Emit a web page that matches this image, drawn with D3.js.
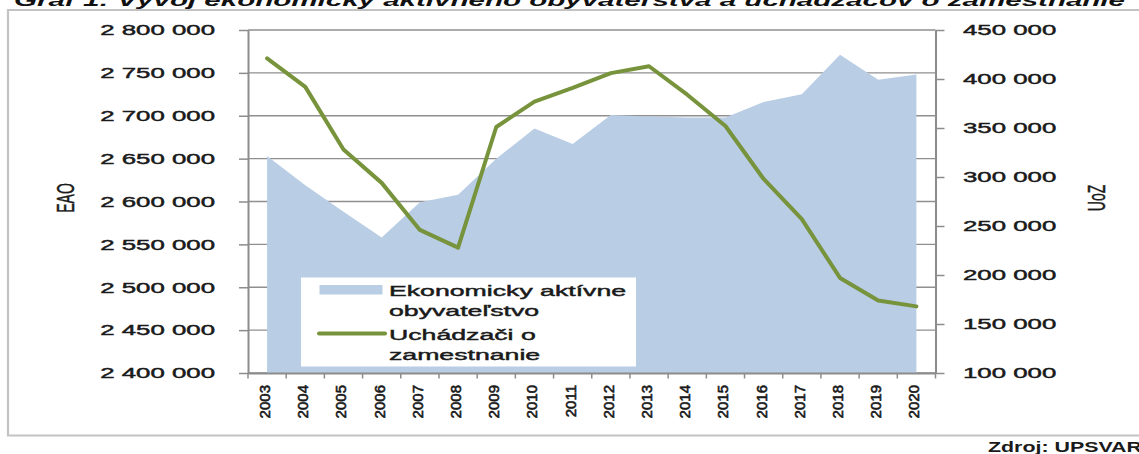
<!DOCTYPE html>
<html>
<head>
<meta charset="utf-8">
<script src="https://cdn.jsdelivr.net/npm/d3@7/dist/d3.min.js"></script>
<style>
  html, body { margin: 0; padding: 0; background: #fff; }
  svg { display: block; }
  text { font-family: "Liberation Sans", Arial, sans-serif; }
</style>
</head>
<body>
<svg id="chart" width="1139" height="454"></svg>
<script>
// ---- data ----
const years = ["2003","2004","2005","2006","2007","2008","2009","2010","2011","2012",
               "2013","2014","2015","2016","2017","2018","2019","2020"];
const eaoValues = [2653000, 2619000, 2588000, 2558000, 2599000, 2608000, 2650000, 2685000, 2667000,
                   2701000, 2699000, 2698000, 2698000, 2716000, 2725000, 2771000, 2742000, 2748000];
const uozValues = [421000, 392000, 328000, 294000, 246000, 228000, 351000, 377000, 391000,
                   406000, 413000, 384000, 352000, 298000, 257000, 197000, 174000, 168000];
const leftTicks = [2400000, 2450000, 2500000, 2550000, 2600000, 2650000, 2700000, 2750000, 2800000];
const rightTicks = [100000, 150000, 200000, 250000, 300000, 350000, 400000, 450000];
const leftTitle = "EAO";
const rightTitle = "UoZ";
const legendLines = [["Ekonomicky aktívne", "obyvateľstvo"], ["Uchádzači o", "zamestnanie"]];
const chartTitle = "Graf 1: Vývoj ekonomicky aktívneho obyvateľstva a uchádzačov o zamestnanie";
const sourceText = "Zdroj: UPSVAR";

// ---- layout ----
const SX = 1.72;            // horizontal stretch of the original picture's text
const L = 248, R = 935.5, T = 30, B = 373;
const areaColor = "#B9CDE5", lineColor = "#77933C", gridColor = "#8f8f8f", axisColor = "#8c8c8c";
const textColor = "#1a1a1a";

const svg = d3.select("#chart");

const x = d3.scaleBand().domain(years).range([L, R]).paddingInner(0).paddingOuter(0);
const cx = d => x(d) + x.bandwidth() / 2;
const yL = d3.scaleLinear().domain([2400000, 2800000]).range([B, T]);
const yR = d3.scaleLinear().domain([100000, 450000]).range([B, T]);
const fmt = v => d3.format(",")(v).replace(/,/g, " ");

function stretch(sel, k) {
  sel.each(function () {
    const len = this.getComputedTextLength();
    d3.select(this).attr("textLength", len * (k || SX)).attr("lengthAdjust", "spacingAndGlyphs");
  });
}
function heavy(sel, w) {
  sel.attr("stroke", textColor).attr("stroke-width", w).attr("paint-order", "stroke");
}

// outer frame
const frame = svg.append("g").attr("fill", "none").attr("stroke", "#c3c3c3").attr("stroke-width", 2.2);
frame.append("path").attr("d", `M1145,10 H8 V435.5 H1145`);

// title (cut off at the top, as in the source picture)
svg.append("text")
  .attr("x", 14).attr("y", 5.5)
  .attr("font-size", 16).attr("font-weight", "bold").attr("font-style", "italic")
  .attr("fill", "#111")
  .attr("textLength", 1111).attr("lengthAdjust", "spacingAndGlyphs")
  .text(chartTitle);

// gridlines
svg.append("g").selectAll("line").data(leftTicks).join("line")
  .attr("x1", L).attr("x2", R)
  .attr("y1", d => yL(d)).attr("y2", d => yL(d))
  .attr("stroke", gridColor).attr("stroke-width", 1.3);

// area
const area = d3.area()
  .x((d, i) => cx(years[i]))
  .y0(yL(2400000))
  .y1(d => yL(d));
svg.append("path").datum(eaoValues)
  .attr("d", area)
  .attr("fill", areaColor);

// left axis
const axL = svg.append("g").attr("transform", `translate(${L},0)`)
  .call(d3.axisLeft(yL).tickValues(leftTicks).tickFormat(fmt).tickSize(9).tickSizeOuter(0).tickPadding(24));
axL.select(".domain").attr("stroke", axisColor).attr("stroke-width", 2);
axL.selectAll(".tick line").attr("stroke", axisColor).attr("stroke-width", 1.5);
axL.selectAll(".tick text").attr("font-size", 15).attr("fill", textColor)
  .attr("font-family", "'Liberation Sans', Arial, sans-serif").call(stretch).call(heavy, 0.45);

// right axis
const axR = svg.append("g").attr("transform", `translate(${R},0)`)
  .call(d3.axisRight(yR).tickValues(rightTicks).tickFormat(fmt).tickSize(9).tickSizeOuter(0).tickPadding(18.5));
axR.select(".domain").attr("stroke", axisColor).attr("stroke-width", 2);
axR.selectAll(".tick line").attr("stroke", axisColor).attr("stroke-width", 1.5);
axR.selectAll(".tick text").attr("font-size", 15).attr("fill", textColor)
  .attr("font-family", "'Liberation Sans', Arial, sans-serif").call(stretch).call(heavy, 0.45);

// bottom (category) axis
const axB = svg.append("g").attr("transform", `translate(0,${B})`)
  .call(d3.axisBottom(x).tickValues([]).tickSizeOuter(0));
axB.select(".domain").attr("stroke", axisColor).attr("stroke-width", 2);
const bounds = years.map(d => x(d)).concat([R]);
axB.selectAll("line.cat").data(bounds).join("line").attr("class", "cat")
  .attr("x1", d => d).attr("x2", d => d).attr("y1", 0).attr("y2", 5.5)
  .attr("stroke", axisColor).attr("stroke-width", 1.5);
axB.selectAll("text.yr").data(years).join("text").attr("class", "yr")
  .attr("transform", d => `translate(${cx(d) - 2.5},12) rotate(-90)`)
  .attr("text-anchor", "end").attr("dy", "0.36em")
  .attr("font-size", 15).attr("fill", textColor)
  .text(d => d).call(heavy, 0.6);

// line
const line = d3.line()
  .x((d, i) => cx(years[i]))
  .y(d => yR(d));
svg.append("path").datum(uozValues)
  .attr("d", line)
  .attr("fill", "none").attr("stroke", lineColor).attr("stroke-width", 4)
  .attr("stroke-linejoin", "round").attr("stroke-linecap", "round");

// axis titles
svg.append("text")
  .attr("transform", `translate(65,198) scale(${SX},1) rotate(-90)`)
  .attr("text-anchor", "middle").attr("dy", "0.36em")
  .attr("font-size", 14).attr("fill", textColor).text(leftTitle).call(heavy, 0.3);
svg.append("text")
  .attr("transform", `translate(1096,198) scale(${SX},1) rotate(-90)`)
  .attr("text-anchor", "middle").attr("dy", "0.36em")
  .attr("font-size", 14).attr("fill", textColor).text(rightTitle).call(heavy, 0.3);

// legend
const lg = svg.append("g");
lg.append("rect").attr("x", 301).attr("y", 277.5).attr("width", 335).attr("height", 89).attr("fill", "#fff");
lg.append("rect").attr("x", 319.5).attr("y", 285).attr("width", 63).attr("height", 9.5).attr("fill", areaColor);
lg.append("line").attr("x1", 319).attr("x2", 385).attr("y1", 333.5).attr("y2", 333.5)
  .attr("stroke", lineColor).attr("stroke-width", 4).attr("stroke-linecap", "round");
const baselines = [[295.5, 315.5], [339.5, 359.5]];
legendLines.forEach((lines, i) => {
  lines.forEach((s, j) => {
    lg.append("text").attr("x", 389).attr("y", baselines[i][j])
      .attr("font-size", 15.5).attr("fill", textColor).text(s).call(stretch).call(heavy, 0.45);
  });
});

// source
svg.append("text")
  .attr("x", 988).attr("y", 451.5)
  .attr("font-size", 15).attr("font-weight", "bold").attr("fill", textColor)
  .attr("textLength", 154).attr("lengthAdjust", "spacingAndGlyphs")
  .text(sourceText);
</script>
</body>
</html>
